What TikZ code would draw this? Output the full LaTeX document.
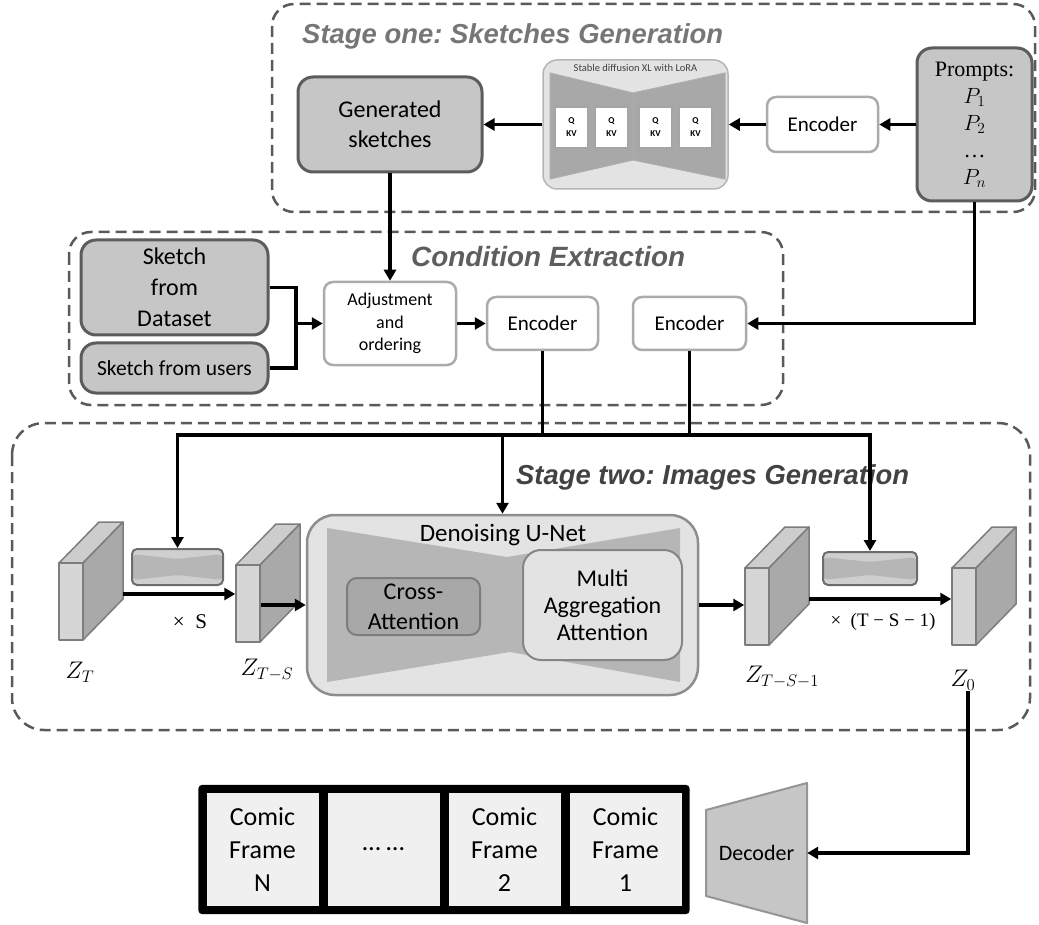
\documentclass[tikz,border=0pt]{standalone}
\usepackage{fix-cm}
\usepackage{fontspec}
\setmainfont{Carlito}
\newfontfamily\titulofont{Liberation Sans}
\newfontfamily\serifa{Liberation Serif}
\usepackage{tikz}
\usetikzlibrary{arrows.meta,positioning,fit,backgrounds,calc}
\frenchspacing
\definecolor{gris}{HTML}{C6C6C6}
\definecolor{grisclaro}{HTML}{E3E3E3}
\definecolor{grismedio}{HTML}{B6B6B6}
\definecolor{grisoscuro}{HTML}{A8A8A8}
\definecolor{borde}{HTML}{5C5C5C}
\definecolor{bordeclaro}{HTML}{ABABAB}
\definecolor{zonagris}{HTML}{5A5A5A}
\definecolor{vinetafondo}{HTML}{F0F0F0}
\definecolor{titulouno}{HTML}{767676}
\definecolor{titulodos}{HTML}{5E5E5E}
\definecolor{titulotres}{HTML}{424242}
\definecolor{carafrente}{HTML}{D6D6D6}
\definecolor{caratapa}{HTML}{CDCDCD}
\definecolor{caralado}{HTML}{A9A9A9}
\newcommand{\tam}[2]{\fontsize{#1}{#2}\selectfont}
% bloque 3D: nombre, x e y de la esquina superior izquierda del frente
\newcommand{\bloque}[3]{%
  \filldraw[cara,fill=caratapa] (#2,#3) -- ++(40,-41) -- ++(24,0) -- ++(-40,41) -- cycle;
  \filldraw[cara,fill=caralado] (#2+24,#3) -- ++(40,-41) -- ++(0,77) -- ++(-40,41) -- cycle;
  \node[cara,fill=carafrente,minimum width=24pt,minimum height=77pt,inner sep=0pt] (#1) at (#2+12,#3+38.5) {};
  \coordinate (#1o) at (#2+64,#3+31);
}
\tikzset{
  caja/.style={rounded corners=12pt,align=center,inner sep=2pt,font=\tam{21}{26}},
  cajagris/.style={caja,draw=borde,fill=gris,line width=3pt,rounded corners=15pt},
  cajablanca/.style={caja,draw=bordeclaro,fill=white,line width=2.5pt,rounded corners=9pt},
  zona/.style={draw=zonagris,line width=2.5pt,dash pattern=on 11pt off 6pt,rounded corners=22pt},
  titulo/.style={font=\titulofont\bfseries\itshape,inner sep=0pt},
  flecha/.style={-{Triangle[length=11pt,width=12pt]},line width=3.5pt},
  linea/.style={line width=3.5pt},
  cara/.style={draw=borde!80,line width=1.5pt,line join=round},
  sdxl/.style={draw=grisclaro!80!black,fill=grisclaro,line width=1.5pt,rounded corners=14pt},
  pajarita/.style={fill=grisoscuro,draw=borde!50,line width=1pt},
  qkv/.style={draw=borde!55,fill=white,line width=1.5pt,minimum width=33pt,minimum height=41pt,
    inner sep=0pt,align=center,font=\tam{9}{13}\bfseries},
  cajita/.style={draw=borde!90,fill=gris!85,line width=2pt,rounded corners=5pt,
    path picture={\fill[grismedio] ([yshift=-5pt]path picture bounding box.north west)
      -- ([yshift=-10pt]path picture bounding box.north) -- ([yshift=-5pt]path picture bounding box.north east)
      -- ([yshift=5pt]path picture bounding box.south east) -- ([yshift=10pt]path picture bounding box.south)
      -- ([yshift=5pt]path picture bounding box.south west) -- cycle;}},
  unet/.style={draw=borde!70,fill=grisclaro,line width=2.5pt,rounded corners=28pt},
  cruzada/.style={caja,draw=borde!80,fill=grisoscuro,line width=2pt,rounded corners=10pt,font=\tam{24}{30}},
  multi/.style={caja,draw=borde!75,fill=grisclaro,line width=2pt,rounded corners=18pt,font=\tam{24}{27}},
  etiqueta/.style={font=\tam{24}{28},inner sep=1pt},
  veces/.style={font=\serifa\tam{21}{24},inner sep=1pt},
  vineta/.style={fill=vinetafondo,minimum width=112pt,minimum height=113pt,inner sep=0pt,
    align=center,font=\tam{26}{33}},
  decoder/.style={draw=borde!65,fill=gris,line width=2pt,line join=round},
}

\begin{document}
\begin{tikzpicture}[x=1pt,y=-1pt]
  \useasboundingbox (0,0) rectangle (1039,925);
  % zonas
  \draw[zona] (272,4) rectangle (1035,212);
  \draw[zona] (69,232) rectangle (783,405);
  \draw[zona,rounded corners=32pt] (12,423) rectangle (1030,730);
  \node[titulo,text=titulouno,anchor=base west] (t1) at (302,44) {\resizebox{421pt}{!}{Stage one: Sketches Generation}};
  \node[titulo,text=titulodos,anchor=base west] (t2) at (411,267) {\resizebox{274pt}{!}{Condition Extraction}};
  \node[titulo,text=titulotres,anchor=base west] (t3) at (516,484) {\resizebox{393pt}{!}{Stage two: Images Generation}};

  % etapa uno
  \node[cajagris,minimum width=115pt,minimum height=153pt,font=\serifa\tam{22}{27}] (prompts) at (974.5,124.5) {Prompts:\\$P_1$\\$P_2$\\…\\$P_n$};
  \node[cajablanca,minimum width=111pt,minimum height=55pt] (enc1) at (822.5,124.5) {Encoder};
  \node[sdxl,minimum width=185pt,minimum height=129pt] (sdxl) at (635.5,124.5) {};
  \filldraw[pajarita] (550,73) -- (633,93) -- (725,73) -- (725,179) -- (633,160) -- (550,179) -- cycle;
  \draw[borde!50,line width=1pt] (633,93) -- (633,160);
  \node[font=\tam{10.5}{12},text=black!75,inner sep=0pt] (tsdxl) at (635.5,68) {Stable diffusion XL with LoRA};
  \foreach \x [count=\i] in {571.5,611.5,655.5,695.5}
    \node[qkv] (qkv\i) at (\x,127.5) {Q\\KV};
  \node[cajagris,minimum width=184pt,minimum height=95pt,font=\tam{24}{30}] (gen) at (390,124.5) {Generated\\sketches};
  \draw[flecha] (prompts) -- (enc1);
  \draw[flecha] (enc1) -- (sdxl);
  \draw[flecha] (sdxl) -- (gen);

  % extraccion de condiciones
  \node[cajagris,minimum width=187pt,minimum height=95pt,font=\tam{24}{31}] (dataset) at (174.5,287.5) {Sketch\\from\\Dataset};
  \node[cajagris,minimum width=187pt,minimum height=50pt,font=\tam{21.5}{26}] (usuarios) at (174.5,368) {Sketch from users};
  \node[cajablanca,minimum width=132pt,minimum height=83pt,font=\tam{18}{22.5}] (ajuste) at (390,323.5) {Adjustment\\and\\ordering};
  \node[cajablanca,minimum width=111pt,minimum height=53pt] (enc2) at (542.5,323.5) {Encoder};
  \node[cajablanca,minimum width=113pt,minimum height=53pt] (enc3) at (689.5,323.5) {Encoder};
  \coordinate (junta) at (296,323.5);
  \draw[linea] (dataset.east) -| (junta) |- (usuarios.east);
  \draw[flecha] (junta) -- (ajuste.west);
  \draw[flecha] (gen) -- (ajuste);
  \draw[flecha] (ajuste) -- (enc2);
  \draw[flecha] (prompts.south) |- (enc3.east);

  % etapa dos
  \bloque{zT}{59}{563}
  \bloque{zTS}{236}{565}
  \bloque{zTSu}{745}{568}
  \bloque{zcero}{952}{568}
  \node[cajita,minimum width=91pt,minimum height=36pt] (minizq) at (177.5,567) {};
  \node[cajita,minimum width=94pt,minimum height=33pt] (minider) at (870,568.5) {};
  \node[unet,minimum width=391pt,minimum height=180pt] (unet) at (502.5,605) {};
  \fill[grismedio] (327,528) -- (507,557) -- (680,528) -- (680,682) -- (510,652) -- (327,682) -- cycle;
  \node[font=\tam{25}{28},inner sep=0pt] (tunet) at (503,535) {Denoising U-Net};
  \node[cruzada,minimum width=133pt,minimum height=57pt] (cruz) at (413.5,606.5) {Cross-\\Attention};
  \node[multi,minimum width=159pt,minimum height=110pt] (multi) at (602.5,605) {Multi\\Aggregation\\Attention};
  \node[etiqueta] (lzT) at (80,672) {$Z_T$};
  \node[etiqueta] (lzTS) at (267,670) {$Z_{T-S}$};
  \node[etiqueta] (lzTSu) at (782,677) {$Z_{T-S-1}$};
  \node[etiqueta] (lzcero) at (963,680) {$Z_0$};
  \node[veces] (vS) at (190,622) {× \ S};
  \node[veces,font=\serifa\tam{19}{22}] (vT) at (883,622) {× \ (T − S − 1)};

  \coordinate (codo1) at (542.5,435);
  \coordinate (codo2) at (689.5,435);
  \draw[linea] (enc2.south) -- (codo1);
  \draw[linea] (enc3.south) -- (codo2);
  \draw[linea] (codo1) -- (codo2);
  \draw[flecha] (codo1) -| (minizq.north);
  \draw[flecha] (codo1) -| (unet.north);
  \draw[flecha] (codo2) -| (minider.north);
  \draw[flecha] (zTo) -- (zTo -| zTS.west);
  \draw[flecha] (zTS.east |- unet.west) -- (unet.west);
  \draw[flecha] (unet.east) -- (unet.east -| zTSu.west);
  \draw[flecha] (zTSuo) -- (zTSuo -| zcero.west);

  % vinetas y decoder
  \foreach \txt [count=\i from 0] in {{Comic\\Frame\\N},{… …},{Comic\\Frame\\2},{Comic\\Frame\\1}}
    \node[vineta] (v\i) at (262.5+121*\i,849.5) {\txt};
  \begin{scope}[on background layer]
    \node[fit=(v0)(v3),fill=black,inner sep=8pt,rounded corners=4pt] (marco) {};
  \end{scope}
  \draw[decoder] (706,810) -- (807,783) -- (807,923) -- (706,896) -- cycle;
  \node[font=\tam{22}{26},minimum width=101pt,inner sep=0pt] (decod) at (756.5,853) {Decoder};
  \draw[flecha] ([xshift=5pt]lzcero.south) |- (decod.east);
\end{tikzpicture}
\end{document}
